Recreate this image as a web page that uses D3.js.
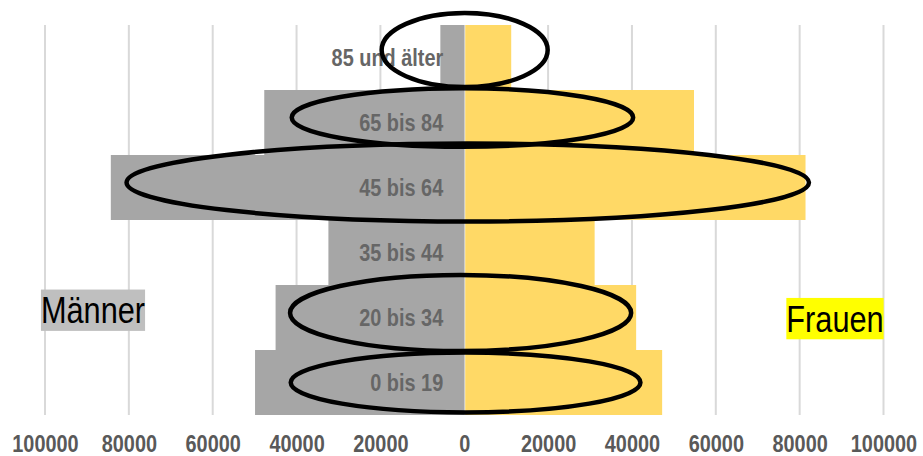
<!DOCTYPE html>
<html lang="de">
<head>
    <meta charset="UTF-8">
    <title>Bevölkerungspyramide</title>
    <script src="https://d3js.org/d3.v7.min.js"></script>
    <style>
        body { margin: 0; background: #fff; }
        text { font-family: "Liberation Sans", Arial, sans-serif; }
    </style>
</head>
<body>
    <svg width="923" height="456"></svg>

    <script>
        // age groups, top to bottom
        const categories = ["85 und älter", "65 bis 84", "45 bis 64", "35 bis 44", "20 bis 34", "0 bis 19"];
        const maenner = [5700, 47700, 84300, 32400, 45000, 49900];
        const frauen = [11200, 54800, 81400, 31100, 41000, 47200];
        const tickValues = [-100000, -80000, -60000, -40000, -20000, 0, 20000, 40000, 60000, 80000, 100000];

        // hand-drawn ellipses: value range on the x axis, shift and half-height in band units
        const marked = [
            { cat: "85 und älter", x0: -19700, x1: 19900, dy: -0.115, ry: 0.57 },
            { cat: "65 bis 84", x0: -41150, x1: 40290, dy: -0.077, ry: 0.45 },
            { cat: "45 bis 64", x0: -80550, x1: 82220, dy: -0.077, ry: 0.6 },
            { cat: "20 bis 34", x0: -41550, x1: 39810, dy: -0.07, ry: 0.585 },
            { cat: "0 bis 19", x0: -41390, x1: 42030, dy: 0, ry: 0.46 }
        ];

        // the original uses a narrow font, so text is squeezed horizontally
        const narrow = 0.865;

        const margin = { top: 25, right: 40, bottom: 41, left: 45 },
              width = 923 - margin.left - margin.right,
              height = 456 - margin.top - margin.bottom;

        const svg = d3.select("svg")
                      .append("g")
                      .attr("transform", `translate(${margin.left},${margin.top})`);

        const x = d3.scaleLinear()
                    .domain([-100000, 100000])
                    .range([0, 838.5]);

        const y = d3.scaleBand()
                    .domain(categories)
                    .range([0, height])
                    .padding(0);

        // vertical gridlines
        svg.selectAll("line.grid")
           .data(tickValues)
           .enter()
           .append("line")
           .attr("class", "grid")
           .attr("x1", d => x(d))
           .attr("x2", d => x(d))
           .attr("y1", 0)
           .attr("y2", height)
           .attr("stroke", "#d9d9d9")
           .attr("stroke-width", 2);

        // men bars (left)
        svg.selectAll("rect.m")
           .data(categories)
           .enter()
           .append("rect")
           .attr("class", "m")
           .attr("x", (d, i) => x(-maenner[i]))
           .attr("y", d => y(d))
           .attr("width", (d, i) => x(0) - x(-maenner[i]))
           .attr("height", y.bandwidth())
           .attr("fill", "#a6a6a6");

        // women bars (right)
        svg.selectAll("rect.f")
           .data(categories)
           .enter()
           .append("rect")
           .attr("class", "f")
           .attr("x", x(0) + 1)
           .attr("y", d => y(d))
           .attr("width", (d, i) => x(frauen[i]) - x(0) - 1)
           .attr("height", y.bandwidth())
           .attr("fill", "#ffd966");

        // age group labels
        const labelX = x(0) - 21;
        svg.selectAll("text.cat")
           .data(categories)
           .enter()
           .append("text")
           .attr("class", "cat")
           .attr("x", labelX)
           .attr("y", d => y(d) + y.bandwidth() / 2)
           .attr("dy", "0.35em")
           .attr("text-anchor", "end")
           .attr("transform", `translate(${labelX * (1 - narrow)},0) scale(${narrow},1)`)
           .style("font-size", "23px")
           .style("font-weight", "bold")
           .attr("fill", "#666666")
           .text(d => d);

        // x axis labels (absolute values)
        const xAxis = svg.append("g")
           .attr("transform", `translate(0,${height})`)
           .call(d3.axisBottom(x).tickValues(tickValues).tickSize(0)
                   .tickFormat(d => Math.abs(d)));
        xAxis.select(".domain").remove();
        xAxis.selectAll("text")
             .attr("y", 37)
             .attr("dy", 0)
             .attr("transform", `scale(${narrow},1)`)
             .style("font-size", "23px")
             .style("font-weight", "bold")
             .style("font-family", null)
             .attr("fill", "#595959");

        // ellipses
        svg.selectAll("ellipse")
           .data(marked)
           .enter()
           .append("ellipse")
           .attr("cx", d => (x(d.x0) + x(d.x1)) / 2)
           .attr("cy", d => y(d.cat) + y.bandwidth() * (0.5 + d.dy))
           .attr("rx", d => (x(d.x1) - x(d.x0)) / 2)
           .attr("ry", d => y.bandwidth() * d.ry)
           .attr("fill", "none")
           .attr("stroke", "#000")
           .attr("stroke-width", 4.5);

        // side labels with coloured boxes
        const sides = [
            { text: "Männer", value: -88550, cat: "20 bis 34", base: 0.589, bg: "#bfbfbf" },
            { text: "Frauen", value: 88430, cat: "20 bis 34", base: 0.718, bg: "#ffff00" }
        ];
        sides.forEach(s => {
            const g = svg.append("g")
                         .attr("transform", `translate(${x(s.value)},${y(s.cat) + y.bandwidth() * s.base}) scale(0.83,1)`);
            const t = g.append("text")
                       .attr("x", 0)
                       .attr("y", 0)
                       .attr("text-anchor", "middle")
                       .style("font-size", "37px")
                       .attr("fill", "#000")
                       .text(s.text);
            const bb = t.node().getBBox();
            g.insert("rect", "text")
             .attr("x", bb.x)
             .attr("y", bb.y)
             .attr("width", bb.width)
             .attr("height", bb.height)
             .attr("fill", s.bg);
        });
    </script>
</body>
</html>
